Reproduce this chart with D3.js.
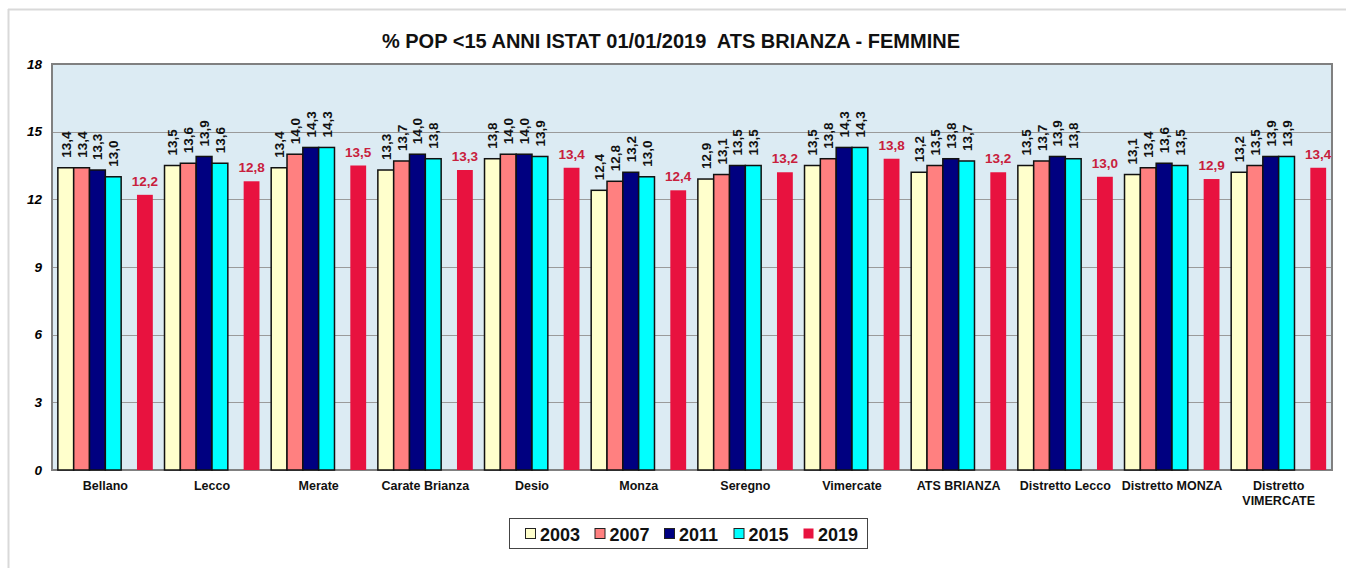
<!DOCTYPE html>
<html>
<head>
<meta charset="utf-8">
<script src="https://cdn.jsdelivr.net/npm/d3@7"></script>
<style>
  html, body { margin: 0; padding: 0; background: #fff; }
  svg { display: block; font-family: "Liberation Sans", Arial, sans-serif; }
</style>
</head>
<body>
<svg id="chart" width="1346" height="568"></svg>
<script>
const categories = ["Bellano", "Lecco", "Merate", "Carate Brianza", "Desio", "Monza", "Seregno", "Vimercate", "ATS BRIANZA", "Distretto Lecco", "Distretto MONZA", "Distretto VIMERCATE"];
const years = ["2003", "2007", "2011", "2015", "2019"];
const v2003 = [13.4, 13.5, 13.4, 13.3, 13.8, 12.4, 12.9, 13.5, 13.2, 13.5, 13.1, 13.2];
const v2007 = [13.4, 13.6, 14.0, 13.7, 14.0, 12.8, 13.1, 13.8, 13.5, 13.7, 13.4, 13.5];
const v2011 = [13.3, 13.9, 14.3, 14.0, 14.0, 13.2, 13.5, 14.3, 13.8, 13.9, 13.6, 13.9];
const v2015 = [13.0, 13.6, 14.3, 13.8, 13.9, 13.0, 13.5, 14.3, 13.7, 13.8, 13.5, 13.9];
const v2019 = [12.2, 12.8, 13.5, 13.3, 13.4, 12.4, 13.2, 13.8, 13.2, 13.0, 12.9, 13.4];
const yTicks = [0, 3, 6, 9, 12, 15, 18];
const title = "% POP <15 ANNI ISTAT 01/01/2019  ATS BRIANZA - FEMMINE";

const seriesValues = [v2003, v2007, v2011, v2015, v2019];
const colors = ["#FFFFCC", "#FF8080", "#000080", "#00FFFF", "#E8123F"];

const svg = d3.select("#chart");
const W = 1346, H = 568;
const m = { left: 52, right: 1332, top: 64, bottom: 470 };

// outer frame
svg.append("line").attr("x1", 8).attr("x2", W).attr("y1", 9.5).attr("y2", 9.5).attr("stroke", "#d9d9d9").attr("stroke-width", 2);
svg.append("line").attr("x1", 8.5).attr("x2", 8.5).attr("y1", 9).attr("y2", H).attr("stroke", "#d9d9d9").attr("stroke-width", 2);

const x0 = d3.scaleBand().domain(categories).range([m.left, m.right]).paddingInner(0).paddingOuter(0);
// 6 slots within a group: 4 bars, empty slot, 2019 bar
const slots = ["s0", "s1", "s2", "s3", "gap", "s5"];
const x1 = d3.scaleBand().domain(slots).range([0, x0.bandwidth()]).paddingInner(0).paddingOuter(0.37);
const slotOf = ["s0", "s1", "s2", "s3", "s5"];
const y = d3.scaleLinear().domain([0, 18]).range([m.bottom, m.top]);

// plot background
svg.append("rect").attr("x", m.left).attr("y", m.top).attr("width", m.right - m.left).attr("height", m.bottom - m.top)
  .attr("fill", "#DCEBF3");

// gridlines
svg.append("g").selectAll("line").data(yTicks.filter(t => t > 0 && t < 18)).join("line")
  .attr("x1", m.left).attr("x2", m.right)
  .attr("y1", d => Math.round(y(d)) + 0.5).attr("y2", d => Math.round(y(d)) + 0.5)
  .attr("stroke", "#9a9a9a").attr("stroke-width", 1);

// plot border
svg.append("rect").attr("x", m.left).attr("y", m.top).attr("width", m.right - m.left).attr("height", m.bottom - m.top)
  .attr("fill", "none").attr("stroke", "#808080").attr("stroke-width", 2);

// y axis
const yAxis = d3.axisLeft(y).tickValues(yTicks).tickSize(0).tickPadding(10).tickFormat(d3.format("d"));
const ga = svg.append("g").attr("transform", `translate(${m.left},0)`).call(yAxis);
ga.select(".domain").remove();
ga.selectAll("text").attr("font-size", 13.5).attr("font-weight", "bold").attr("font-style", "italic").attr("fill", "#000")
  .attr("font-family", "Liberation Sans, Arial, sans-serif");

const fmt = v => v.toFixed(1).replace(".", ",");

// bars
seriesValues.forEach((vals, si) => {
  const g = svg.append("g");
  g.selectAll("rect").data(vals).join("rect")
    .attr("x", (d, i) => x0(categories[i]) + x1(slotOf[si]))
    .attr("y", d => y(d))
    .attr("width", x1.bandwidth())
    .attr("height", d => y(0) - y(d))
    .attr("fill", colors[si])
    .attr("stroke", si < 4 ? "#111" : "none")
    .attr("stroke-width", si < 4 ? 1.5 : 0);

  if (si < 4) {
    g.selectAll("text").data(vals).join("text")
      .attr("transform", (d, i) => {
        const cx = x0(categories[i]) + x1(slotOf[si]) + x1.bandwidth() / 2 + 5;
        const cy = y(d) - 10;
        return `translate(${cx},${cy}) rotate(-90)`;
      })
      .attr("text-anchor", "start")
      .attr("font-size", 13.5).attr("font-weight", "bold").attr("fill", "#111")
      .text(d => fmt(d));
  } else {
    g.selectAll("text").data(vals).join("text")
      .attr("x", (d, i) => x0(categories[i]) + x1(slotOf[si]) + x1.bandwidth() / 2)
      .attr("y", d => y(d) - 9)
      .attr("text-anchor", "middle")
      .attr("font-size", 13.5).attr("font-weight", "bold").attr("fill", "#C8203C")
      .text(d => fmt(d));
  }
});

// x labels
const xl = svg.append("g");
categories.forEach(c => {
  const cx = x0(c) + x0.bandwidth() / 2;
  const t = xl.append("text").attr("x", cx).attr("y", 490).attr("text-anchor", "middle")
    .attr("font-size", 12.5).attr("font-weight", "bold").attr("fill", "#111");
  if (c === "Distretto VIMERCATE") {
    t.append("tspan").attr("x", cx).attr("dy", 0).text("Distretto");
    t.append("tspan").attr("x", cx).attr("dy", 15).text("VIMERCATE");
  } else {
    t.text(c);
  }
});

// title
svg.append("text").attr("x", 671).attr("y", 48).attr("text-anchor", "middle")
  .attr("xml:space", "preserve").style("white-space", "pre")
  .attr("font-size", 20).attr("font-weight", "bold").attr("fill", "#111").text(title);

// legend
const lg = svg.append("g");
lg.append("rect").attr("x", 509.5).attr("y", 518.5).attr("width", 358).attr("height", 30)
  .attr("fill", "#fff").attr("stroke", "#444").attr("stroke-width", 1);
const legX = d3.scalePoint().domain(years).range([526, 804]);
years.forEach((yr, i) => {
  const lx = legX(yr);
  lg.append("rect").attr("x", lx - 0.5).attr("y", 528.5).attr("width", 10).attr("height", 10)
    .attr("fill", colors[i]).attr("stroke", i < 4 ? "#222" : "none").attr("stroke-width", 1);
  lg.append("text").attr("x", lx + 14).attr("y", 540.5).attr("font-size", 18).attr("font-weight", "bold")
    .attr("fill", "#111").text(yr);
});
</script>
</body>
</html>
